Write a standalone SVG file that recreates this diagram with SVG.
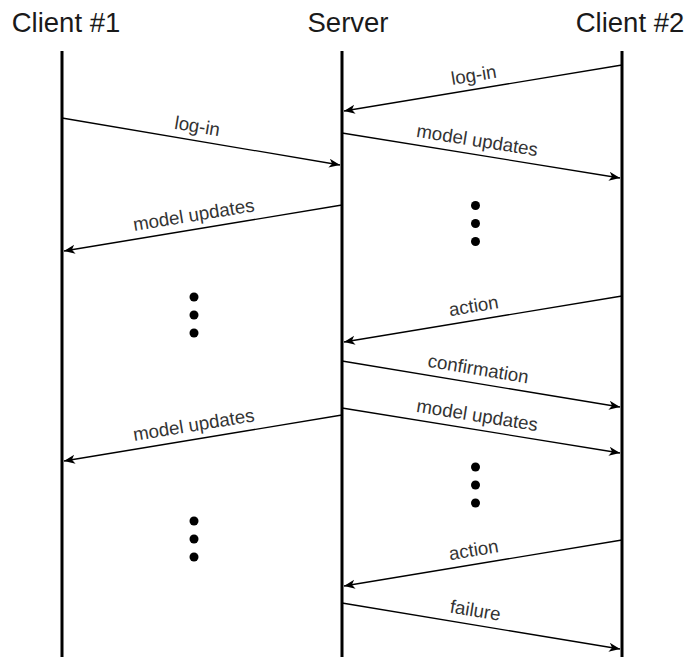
<svg xmlns="http://www.w3.org/2000/svg" width="686" height="657" viewBox="0 0 686 657">
<style>
.hdr{font-family:"Liberation Sans",Arial,sans-serif;font-size:27.5px;fill:#1a1a1a;text-anchor:middle}
.life{stroke:#000;stroke-width:3;fill:none}
.msg{stroke:#000;stroke-width:1.3;fill:none;marker-end:url(#ah)}
.lbl{font-family:"Liberation Sans",Arial,sans-serif;font-size:18.7px;fill:#333;text-anchor:middle}
.dot{fill:#000}
</style>
<defs>
<marker id="ah" markerUnits="userSpaceOnUse" markerWidth="12" markerHeight="10" refX="11" refY="4.5" orient="auto">
<path d="M0,0 L11,4.5 L0,9 L3,4.5 Z" fill="#000"/>
</marker>
</defs>
<rect width="686" height="657" fill="#fff"/>
<g id="client1">
<text class="hdr" x="66" y="32">Client #1</text>
<line class="life" x1="62" y1="51" x2="62" y2="657"/>
<circle class="dot" cx="194" cy="297" r="4.5"/>
<circle class="dot" cx="194" cy="315" r="4.5"/>
<circle class="dot" cx="194" cy="333" r="4.5"/>
<circle class="dot" cx="194" cy="521" r="4.5"/>
<circle class="dot" cx="194" cy="539" r="4.5"/>
<circle class="dot" cx="194" cy="557" r="4.5"/>
</g>
<g id="server">
<text class="hdr" x="348" y="32">Server</text>
<line class="life" x1="342" y1="51" x2="342" y2="657"/>
</g>
<g id="client2">
<text class="hdr" x="630" y="32">Client #2</text>
<line class="life" x1="622" y1="51" x2="622" y2="657"/>
<circle class="dot" cx="475.5" cy="205.5" r="4.5"/>
<circle class="dot" cx="475.5" cy="223.5" r="4.5"/>
<circle class="dot" cx="475.5" cy="241.5" r="4.5"/>
<circle class="dot" cx="475.5" cy="467" r="4.5"/>
<circle class="dot" cx="475.5" cy="485" r="4.5"/>
<circle class="dot" cx="475.5" cy="503" r="4.5"/>
</g>
<g id="connectors">
<line class="msg" x1="622" y1="65" x2="344" y2="111"/>
<line class="msg" x1="342" y1="133" x2="620" y2="178"/>
<line class="msg" x1="62" y1="118" x2="340" y2="165"/>
<line class="msg" x1="342" y1="205" x2="64" y2="251"/>
<line class="msg" x1="622" y1="296" x2="344" y2="342"/>
<line class="msg" x1="342" y1="361" x2="620" y2="407"/>
<line class="msg" x1="342" y1="408" x2="620" y2="453"/>
<line class="msg" x1="342" y1="415" x2="64" y2="461"/>
<line class="msg" x1="622" y1="540" x2="344" y2="586"/>
<line class="msg" x1="342" y1="603" x2="620" y2="649"/>
</g>
<g id="labels">
<text class="lbl" transform="translate(476,89.2) rotate(-9.33)" y="-8">log-in</text>
<text class="lbl" transform="translate(475,154.4) rotate(9.13)" y="-8">model updates</text>
<text class="lbl" transform="translate(195,140.3) rotate(9.53)" y="-8">log-in</text>
<text class="lbl" transform="translate(196,229) rotate(-9.33)" y="-8">model updates</text>
<text class="lbl" transform="translate(476,320) rotate(-9.33)" y="-8">action</text>
<text class="lbl" transform="translate(476,383) rotate(9.33)" y="-8">confirmation</text>
<text class="lbl" transform="translate(475,429.4) rotate(9.13)" y="-8">model updates</text>
<text class="lbl" transform="translate(196,439) rotate(-9.33)" y="-8">model updates</text>
<text class="lbl" transform="translate(476,564) rotate(-9.33)" y="-8">action</text>
<text class="lbl" transform="translate(473,624.5) rotate(9.33)" y="-8">failure</text>
</g>
</svg>
